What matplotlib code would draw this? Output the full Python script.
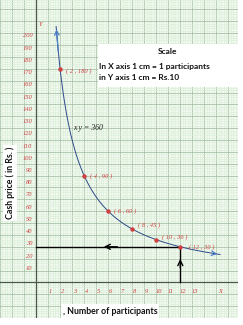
import numpy as np
import matplotlib
matplotlib.use("Agg")
import matplotlib.pyplot as plt
from matplotlib.patches import Rectangle

# ---- data ----
points_x = [2, 4, 6, 8, 10, 12]
points_y = [180, 90, 60, 45, 36, 30]
point_labels = ["( 2 , 180 )", "( 4 , 90 )", "( 6 , 60 )", "( 8 , 45 )", "( 10 , 36 )", "( 12 , 30 )"]
curve_k = 360            # x y = 360
curve_x_start, curve_x_end = 1.67, 15.3
y_tick_values = list(range(10, 210, 10))
x_tick_values = list(range(1, 14))
guide_x, guide_y = 12, 30

W, H = 243, 325
fig = plt.figure(figsize=(W / 100, H / 100), dpi=100, facecolor="white")

# axes spanning graph-paper area (px 0..238 wide, 0..318 tall)
ax = fig.add_axes([0, (H - 318) / H, 238 / W, 318 / H])
ppu = 12.7  # px per unit
x0px, y0px = 33, 290
ax.set_xlim(-x0px / ppu, (238 - x0px) / ppu)
ax.set_ylim(-(318 - y0px) / ppu * 10, y0px / ppu * 10)
ax.set_facecolor("#f2f9f0")
for s in ax.spines.values():
    s.set_visible(False)

ax.set_xticks(np.arange(-3, 17, 1))
ax.set_xticks(np.arange(-3, 17, 0.2), minor=True)
ax.set_yticks(np.arange(-30, 240, 10))
ax.set_yticks(np.arange(-30, 240, 2), minor=True)
ax.tick_params(which="both", length=0, labelbottom=False, labelleft=False)
ax.grid(which="minor", color="#d9eed8", lw=0.4)
ax.grid(which="major", color="#a8c2a8", lw=0.6)
ax.set_axisbelow(True)

# axes lines
ax.axvline(0, color="#4a584a", lw=0.9)
ax.axhline(0, color="#4a584a", lw=0.9)

red = "#d04040"
tick_font = dict(family="Liberation Serif", style="italic", color=red, fontsize=4.6)
for v in y_tick_values:
    ax.text(-0.3, 11.8 + (v - 10) * 1.0315, str(v), ha="right", va="center", **tick_font)
for v in x_tick_values:
    ax.text(v + 0.2, -8, str(v), ha="center", va="center", **tick_font)
ax.text(15.35, -8, "X", ha="center", va="center", **tick_font)
ax.text(0.4, 217, "Y", ha="center", va="center", **tick_font)

# curve x y = 360
cx = np.linspace(curve_x_start, curve_x_end, 400)
cy = curve_k / cx
blue_line = "#2d4a88"
ax.plot(cx, cy, color=blue_line, lw=0.7)
arrow_blue = "#4a7cc8"
ax.annotate("", xy=(cx[0], cy[0]), xytext=(cx[6], cy[6]),
            arrowprops=dict(arrowstyle="->", color=arrow_blue, lw=0.9, mutation_scale=8))
ax.annotate("", xy=(cx[-1], cy[-1]), xytext=(cx[-20], cy[-20]),
            arrowprops=dict(arrowstyle="->", color=arrow_blue, lw=0.9, mutation_scale=8))

# points and labels
ax.plot(points_x, points_y, "o", color=red, ms=2.2, zorder=5)
label_offsets = [(4, -2), (4, 0), (4, 0), (4, 3), (4, 2), (6, 0)]
for px_, py_, lab, off in zip(points_x, points_y, point_labels, label_offsets):
    ax.annotate(lab, (px_, py_), xytext=off, textcoords="offset points",
                ha="left", va="center", **tick_font)

ax.text(4.3, 130, "x y = 360", family="Liberation Serif", style="italic",
        fontsize=5.6, color="#222222", ha="center", va="center")

# guide lines with arrows
ax.plot([0, guide_x], [guide_y, guide_y], color="black", lw=1.0)
ax.plot([guide_x, guide_x], [0, guide_y], color="black", lw=1.0)
ax.annotate("", xy=(5.4, guide_y), xytext=(7.0, guide_y),
            arrowprops=dict(arrowstyle="->", color="black", lw=1.0, mutation_scale=9))
ax.annotate("", xy=(guide_x, 22), xytext=(guide_x, 10),
            arrowprops=dict(arrowstyle="->", color="black", lw=1.0, mutation_scale=9))

# scale box
fig.patches.append(Rectangle((98 / W, 1 - 87 / H), 141 / W, 43 / H,
                             transform=fig.transFigure, facecolor="white",
                             edgecolor="none", zorder=10))
box_font = dict(family="Lato", weight="bold", fontsize=6, color="#111111", zorder=11)
fig.text(167 / W, 1 - 52 / H, "Scale", ha="center", va="center", **box_font)
fig.text(99 / W, 1 - 66 / H, "In X axis 1 cm = 1 participants", ha="left", va="center", **box_font)
fig.text(99 / W, 1 - 78 / H, "in Y axis 1 cm = Rs.10", ha="left", va="center", **box_font)

# axis titles
fig.text(10 / W, 1 - 183 / H, "Cash price ( in Rs. )", rotation=90, ha="center", va="center",
         family="Lato", weight="bold", fontsize=6.3, color="#111111",
         bbox=dict(facecolor="white", edgecolor="none", pad=1.5))
fig.text(110 / W, 1 - 311 / H, ", Number of participants", ha="center", va="center",
         family="Lato", weight="bold", fontsize=6.3, color="#111111",
         bbox=dict(facecolor="white", edgecolor="none", pad=1.5))

fig.savefig("out.png", dpi=100, facecolor="white")
